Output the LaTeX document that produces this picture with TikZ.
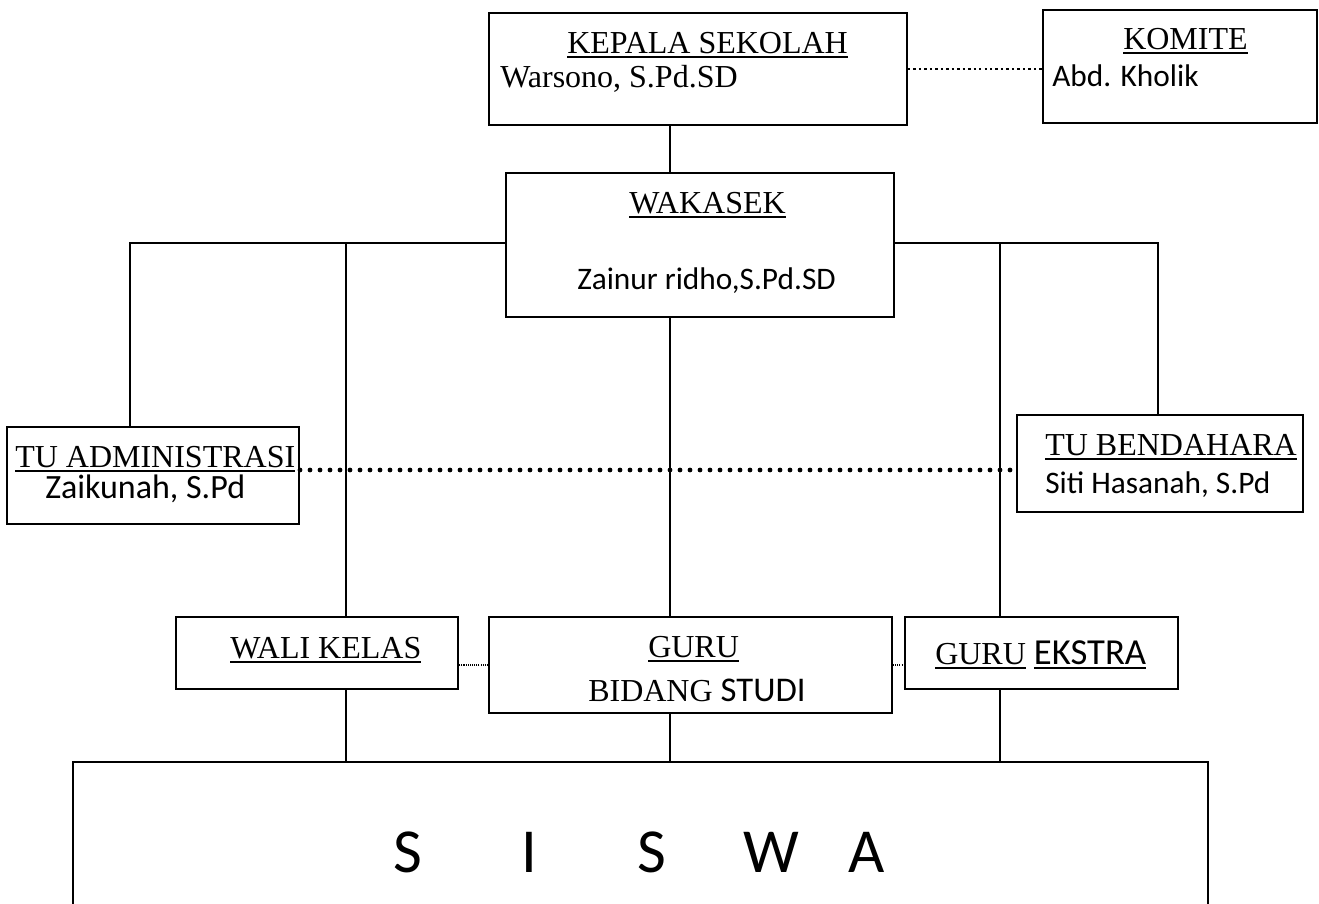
\documentclass[tikz,border=0pt]{standalone}
\usepackage{fontspec}
\setmainfont{Liberation Serif}
\newfontfamily\calfont{Carlito}
\usetikzlibrary{fit}
\newcommand{\undl}[1]{\leavevmode\setbox0=\hbox{#1}\rlap{\vrule width \wd0 height -2.2pt depth 3.8pt}\box0\relax}

\begin{document}
\begin{tikzpicture}[
        x=0.75pt, y=-0.75pt,
        box/.style={draw, line width=1.5pt, inner sep=0pt},
        ttl/.style={font=\fontsize{24}{28}\selectfont, inner sep=0pt, anchor=base west},
        nm/.style={font=\calfont\fontsize{23.5}{28}\selectfont, inner sep=0pt, anchor=base west},
        link/.style={line width=1.2pt},
        dots/.style={line width=1.8pt, dash pattern=on 1.8pt off 2.3pt},
        bigdots/.style={line width=3.6pt, line cap=round, dash pattern=on 0pt off 7.5pt},
        finedots/.style={line width=0.8pt, dash pattern=on 0.8pt off 0.8pt}
        ]
        \useasboundingbox (0,0) rectangle (1319,903);
        % kepala sekolah and komite
        \node[box, fit={(489,13) (907,125)}] (kepsek) {};
        \node[ttl] (tkepsek) at (567,53) {\undl{KEPALA SEKOLAH}};
        \node[ttl] (nkepsek) at (500,87) {Warsono, S.Pd.SD};
        \node[box, fit={(1043,10) (1317,123)}] (komite) {};
        \node[ttl] (tkomite) at (1123,49) {\undl{KOMITE}};
        \node[nm] (nkomite) at (1052,86) {Abd. Kholik};
        % wakasek
        \node[box, fit={(506,173) (894,317)}] (wakasek) {};
        \node[ttl] (twakasek) at (629,213) {\undl{WAKASEK}};
        \node[nm] (nwakasek) at (577,289) {Zainur ridho,S.Pd.SD};
        % tata usaha
        \node[box, fit={(7,427) (299,524)}] (tuadm) {};
        \node[ttl] (ttuadm) at (15,467) {\undl{TU ADMINISTRASI}};
        \node[nm, font=\calfont\fontsize{25.5}{28}\selectfont] (ntuadm) at (45,498) {Zaikunah, S.Pd};
        \node[box, fit={(1017,415) (1303,512)}] (tubend) {};
        \node[ttl] (ttubend) at (1045,455) {\undl{TU BENDAHARA}};
        \node[nm] (ntubend) at (1045,493) {Siti Hasanah, S.Pd};
        % guru
        \node[box, fit={(176,617) (458,689)}] (wali) {};
        \node[ttl] (twali) at (230,658) {\undl{WALI KELAS}};
        \node[box, fit={(489,617) (892,713)}] (guru) {};
        \node[ttl] (tguru) at (648,657) {\undl{GURU}};
        \node[ttl] (tbidang) at (588,701) {BIDANG {\calfont\fontsize{26}{28}\selectfont STUDI}};
        \node[box, fit={(905,617) (1178,689)}] (ekstra) {};
        \node[ttl] (tekstra) at (935,664) {\undl{GURU} \undl{\calfont\fontsize{27.5}{28}\selectfont EKSTRA}};
        % siswa
        \node[box, fit={(73,762) (1208,915)}] (siswa) {};
        \node[nm, font=\calfont\fontsize{47}{50}\selectfont] (tsiswa) at (393,872)
            {S\hspace{75pt}I\hspace{75pt}S\hspace{58pt}W\hspace{37pt}A};
        % lines
        \coordinate (spine) at (670,0);
        \coordinate (jadm) at (130,243);
        \coordinate (jwali) at (346,243);
        \coordinate (jeks) at (1000,243);
        \coordinate (jbend) at (1158,243);
        \coordinate (tuline) at (0,470);
        \draw[link] (spine |- kepsek.south) -- (spine |- wakasek.north);
        \draw[link] (wakasek.west |- jadm) -- (jadm) -- (jadm |- tuadm.north);
        \draw[link] (jwali) -- (jwali |- wali.north);
        \draw[link] (wakasek.east |- jbend) -- (jbend) -- (jbend |- tubend.north);
        \draw[link] (jeks) -- (jeks |- ekstra.north);
        \draw[link] (spine |- wakasek.south) -- (spine |- guru.north);
        \draw[link] (jwali |- wali.south) -- (jwali |- siswa.north);
        \draw[link] (spine |- guru.south) -- (spine |- siswa.north);
        \draw[link] (jeks |- ekstra.south) -- (jeks |- siswa.north);
        % dotted lines
        \draw[dots] (kepsek.east) -- (kepsek.east -| komite.west);
        \draw[bigdots] (tuadm.east |- tuline) -- (tubend.west |- tuline);
        \draw[finedots] (guru.west) -- (guru.west -| wali.east);
        \draw[finedots] (guru.east) -- (guru.east -| ekstra.west);
\end{tikzpicture}
\end{document}
